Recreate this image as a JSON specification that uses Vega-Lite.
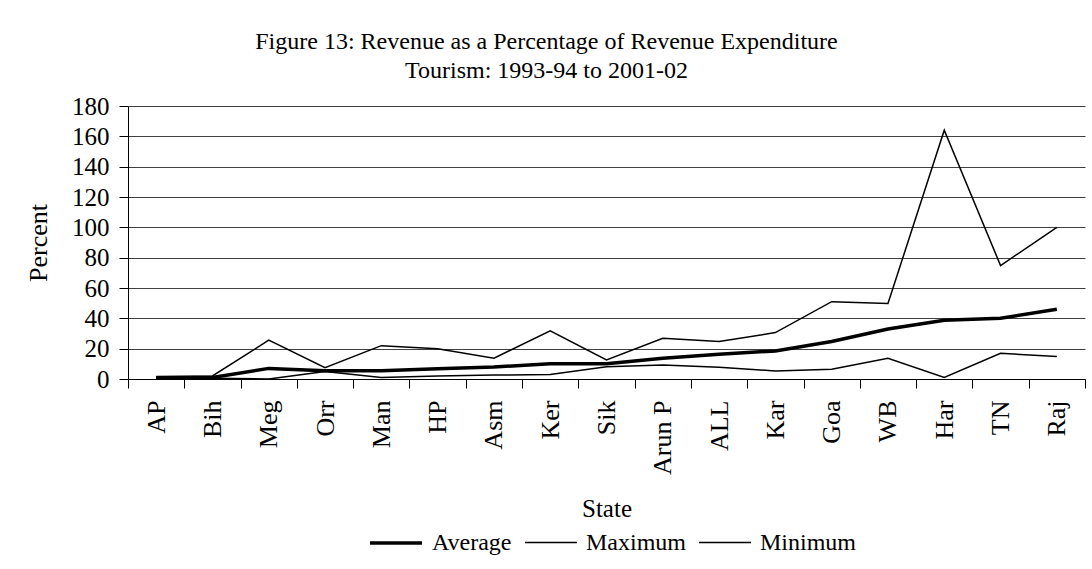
{
  "$schema": "https://vega.github.io/schema/vega-lite/v6.json",
  "autosize": "none",
  "width": 957,
  "height": 273,
  "padding": {"left": 128, "top": 106, "right": 7, "bottom": 190},
  "background": "white",
  "title": {
    "text": ["Figure 13: Revenue as a Percentage of Revenue Expenditure", "Tourism: 1993-94 to 2001-02"],
    "font": "Liberation Serif",
    "fontSize": 24,
    "fontWeight": "normal",
    "color": "black",
    "lineHeight": 29,
    "anchor": "middle",
    "frame": "group",
    "dx": -60,
    "offset": 11
  },
  "data": {
    "values": [
      {"state": "AP", "series": "Average", "value": 1},
      {"state": "AP", "series": "Maximum", "value": 1.5},
      {"state": "AP", "series": "Minimum", "value": 0.5},
      {"state": "Bih", "series": "Average", "value": 1},
      {"state": "Bih", "series": "Maximum", "value": 2},
      {"state": "Bih", "series": "Minimum", "value": 0.5},
      {"state": "Meg", "series": "Average", "value": 7},
      {"state": "Meg", "series": "Maximum", "value": 25.6},
      {"state": "Meg", "series": "Minimum", "value": 0},
      {"state": "Orr", "series": "Average", "value": 5.5},
      {"state": "Orr", "series": "Maximum", "value": 7.5},
      {"state": "Orr", "series": "Minimum", "value": 5},
      {"state": "Man", "series": "Average", "value": 5.5},
      {"state": "Man", "series": "Maximum", "value": 22},
      {"state": "Man", "series": "Minimum", "value": 1},
      {"state": "HP", "series": "Average", "value": 6.8},
      {"state": "HP", "series": "Maximum", "value": 20},
      {"state": "HP", "series": "Minimum", "value": 2},
      {"state": "Asm", "series": "Average", "value": 7.9},
      {"state": "Asm", "series": "Maximum", "value": 13.7},
      {"state": "Asm", "series": "Minimum", "value": 2.6},
      {"state": "Ker", "series": "Average", "value": 10.1},
      {"state": "Ker", "series": "Maximum", "value": 31.8},
      {"state": "Ker", "series": "Minimum", "value": 3},
      {"state": "Sik", "series": "Average", "value": 10},
      {"state": "Sik", "series": "Maximum", "value": 12.6},
      {"state": "Sik", "series": "Minimum", "value": 8},
      {"state": "Arun P", "series": "Average", "value": 13.7},
      {"state": "Arun P", "series": "Maximum", "value": 26.9},
      {"state": "Arun P", "series": "Minimum", "value": 9.2},
      {"state": "ALL", "series": "Average", "value": 16.3},
      {"state": "ALL", "series": "Maximum", "value": 24.7},
      {"state": "ALL", "series": "Minimum", "value": 7.8},
      {"state": "Kar", "series": "Average", "value": 18.5},
      {"state": "Kar", "series": "Maximum", "value": 30.6},
      {"state": "Kar", "series": "Minimum", "value": 5.3},
      {"state": "Goa", "series": "Average", "value": 24.7},
      {"state": "Goa", "series": "Maximum", "value": 51},
      {"state": "Goa", "series": "Minimum", "value": 6.4},
      {"state": "WB", "series": "Average", "value": 33},
      {"state": "WB", "series": "Maximum", "value": 49.8},
      {"state": "WB", "series": "Minimum", "value": 13.7},
      {"state": "Har", "series": "Average", "value": 38.8},
      {"state": "Har", "series": "Maximum", "value": 164},
      {"state": "Har", "series": "Minimum", "value": 1},
      {"state": "TN", "series": "Average", "value": 40},
      {"state": "TN", "series": "Maximum", "value": 74.8},
      {"state": "TN", "series": "Minimum", "value": 17},
      {"state": "Raj", "series": "Average", "value": 46},
      {"state": "Raj", "series": "Maximum", "value": 100},
      {"state": "Raj", "series": "Minimum", "value": 14.8}
    ]
  },
  "mark": {"type": "line", "color": "black"},
  "encoding": {
    "x": {
      "field": "state",
      "type": "nominal",
      "sort": ["AP", "Bih", "Meg", "Orr", "Man", "HP", "Asm", "Ker", "Sik", "Arun P", "ALL", "Kar", "Goa", "WB", "Har", "TN", "Raj"],
      "bandPosition": 0.5,
      "scale": {"type": "band", "paddingInner": 0, "paddingOuter": 0},
      "axis": {
        "title": "State",
        "labelAngle": -90,
        "labelFont": "Liberation Serif",
        "labelFontSize": 26,
        "labelColor": "black",
        "labelPadding": 12,
        "tickSize": 9,
        "tickColor": "black",
        "tickBand": "extent",
        "domainColor": "black",
        "grid": false,
        "titleFont": "Liberation Serif",
        "titleFontSize": 25,
        "titleFontWeight": "normal",
        "titleColor": "black",
        "titlePadding": 22
      }
    },
    "y": {
      "field": "value",
      "type": "quantitative",
      "scale": {"domain": [0, 180], "nice": false},
      "axis": {
        "title": "Percent",
        "values": [0, 20, 40, 60, 80, 100, 120, 140, 160, 180],
        "labelFont": "Liberation Serif",
        "labelFontSize": 25,
        "labelColor": "black",
        "labelPadding": 10,
        "tickSize": 9,
        "tickColor": "black",
        "domainColor": "black",
        "gridColor": "#404040",
        "gridWidth": 1,
        "titleFont": "Liberation Serif",
        "titleFontSize": 26,
        "titleFontWeight": "normal",
        "titleColor": "black",
        "titlePadding": 20
      }
    },
    "strokeWidth": {
      "field": "series",
      "type": "nominal",
      "scale": {"type": "ordinal", "domain": ["Average", "Maximum", "Minimum"], "range": [3.5, 1.5, 1.5]},
      "legend": {
        "title": null,
        "orient": "none",
        "legendX": 240,
        "legendY": 409,
        "direction": "horizontal",
        "symbolType": "stroke",
        "symbolSize": 2704,
        "symbolStrokeColor": "black",
        "labelFont": "Liberation Serif",
        "labelFontSize": 24,
        "labelColor": "black",
        "labelOffset": 8,
        "columnPadding": 10
      }
    }
  },
  "config": {"view": {"stroke": null}}
}
